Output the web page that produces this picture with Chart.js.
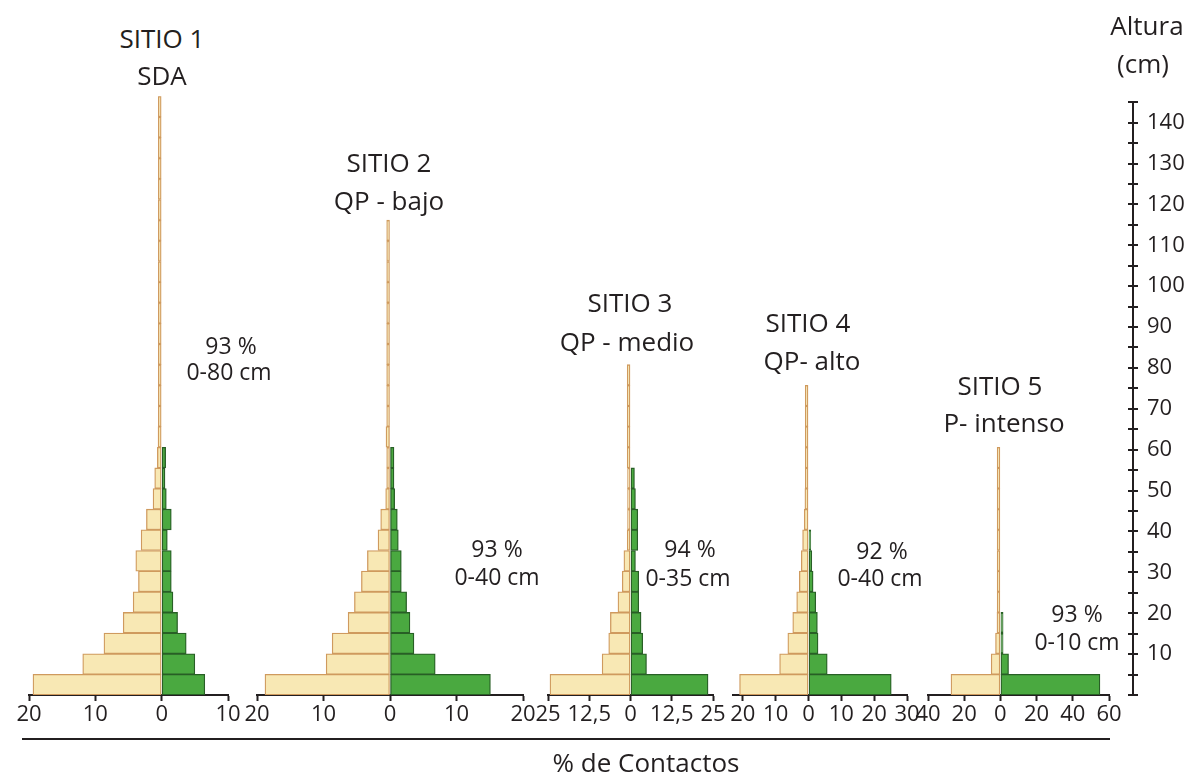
<!DOCTYPE html>
<html lang="es">
<head>
  <meta charset="UTF-8">
  <title>Perfiles de contactos por altura</title>
  <script src="https://cdn.jsdelivr.net/npm/chart.js"></script>
  <style>
    body { margin: 0; background: #fff; }
    #lienzo { position: relative; width: 1195px; height: 776px; overflow: hidden;
              font-family: 'Open Sans', sans-serif; color: #231f20; }
    #lienzo canvas { position: absolute; }
    .txt { position: absolute; transform: translate(-50%, -50%); line-height: 1; white-space: nowrap; }
    .titulo { font-size: 26px; }
    .nota { font-size: 23px; }
    #linea { position: absolute; left: 22px; width: 1088px; top: 738px; border-top: 2px solid #231f20; }
  </style>
</head>
<body>
<div id="lienzo">
  <div id="linea"></div>
</div>

<script>
  // Intervalos de altura (cm), de abajo hacia arriba
  const alturas = ['0-5', '5-10', '10-15', '15-20', '20-25', '25-30', '30-35', '35-40', '40-45', '45-50',
    '50-55', '55-60', '60-65', '65-70', '70-75', '75-80', '80-85', '85-90', '90-95', '95-100',
    '100-105', '105-110', '110-115', '115-120', '120-125', '125-130', '130-135', '135-140', '140-145'];

  // % de contactos por intervalo (crema = lado izquierdo, verde = lado derecho)
  const s1Crema = [19.4, 11.9, 8.7, 5.8, 4.3, 3.5, 3.9, 3.1, 2.3, 1.3, 1.05, 0.65, 0.55, 0.5, 0.5, 0.5, 0.5,
    0.5, 0.5, 0.5, 0.5, 0.5, 0.5, 0.5, 0.5, 0.5, 0.5, 0.5, 0.5];
  const s1Verde = [6.5, 5.0, 3.7, 2.4, 1.7, 1.45, 1.45, 0.85, 1.45, 0.7, 0.5, 0.6];

  const s2Crema = [18.8, 9.6, 8.7, 6.3, 5.35, 4.3, 3.4, 1.8, 1.4, 0.65, 0.5, 0.5, 0.6, 0.5, 0.5, 0.5,
    0.5, 0.5, 0.5, 0.5, 0.5, 0.5, 0.5];
  const s2Verde = [15.1, 6.8, 3.6, 3.0, 2.5, 1.7, 1.7, 1.25, 1.1, 0.7, 0.6, 0.6];

  const s3Crema = [24.4, 8.6, 6.6, 6.1, 3.8, 2.5, 2.0, 1.0, 0.9, 0.9, 0.9, 1.0, 1.0, 1.0, 1.0, 1.0];
  const s3Verde = [23.5, 4.85, 3.7, 3.2, 2.5, 2.5, 1.5, 2.2, 2.2, 1.5, 1.2];

  const s4Crema = [21, 8.8, 6.3, 4.8, 3.6, 2.8, 2.2, 1.8, 1.3, 1.1, 1.0, 1.0, 1.0, 1.0, 1.0];
  const s4Verde = [25.2, 5.7, 2.9, 2.7, 2.2, 1.4, 1.0, 0.7];

  const s5Crema = [27.3, 5.1, 2.7, 1.9, 1.8, 1.8, 1.8, 1.8, 1.8, 1.8, 1.8, 1.8];
  const s5Verde = [55, 4.5, 1.5, 1.5];

  // Marcas de los ejes
  const ticks1 = [-20, -10, 0, 10];
  const ticks2 = [-20, -10, 0, 10, 20];
  const ticks3 = [-25, -12.5, 0, 12.5, 25];
  const ticks4 = [-20, -10, 0, 10, 20, 30];
  const ticks5 = [-40, -20, 0, 20, 40, 60];
  const alturaMarcas = [0, 5, 10, 15, 20, 25, 30, 35, 40, 45, 50, 55, 60, 65, 70, 75, 80, 85, 90, 95,
    100, 105, 110, 115, 120, 125, 130, 135, 140, 145];
  const alturaEtiquetas = [10, 20, 30, 40, 50, 60, 70, 80, 90, 100, 110, 120, 130, 140];

  const TINTA = '#231f20';
  const FUENTE = "'Open Sans', sans-serif";
  const lienzo = document.getElementById('lienzo');

  // posición de cada panel: x0/x1 = pixel del mínimo/máximo del eje
  const paneles = [
    { crema: s1Crema, verde: s1Verde, min: -20, max: 10, ticks: ticks1, x0: 29, x1: 228 },
    { crema: s2Crema, verde: s2Verde, min: -20, max: 20, ticks: ticks2, x0: 257, x1: 523 },
    { crema: s3Crema, verde: s3Verde, min: -25, max: 25, ticks: ticks3, x0: 548, x1: 713 },
    { crema: s4Crema, verde: s4Verde, min: -23, max: 30, ticks: ticks4, x0: 733, x1: 907 },
    { crema: s5Crema, verde: s5Verde, min: -40, max: 60, ticks: ticks5, x0: 928, x1: 1109 }
  ];

  const TOP = 80, ALTO = 655, PAD_TOP = 16.3, EJE_X = 40;

  function nuevoCanvas(left, width) {
    const c = document.createElement('canvas');
    c.width = width; c.height = ALTO;
    c.style.left = left + 'px'; c.style.top = TOP + 'px';
    c.style.width = width + 'px'; c.style.height = ALTO + 'px';
    lienzo.appendChild(c);
    return c;
  }

  paneles.forEach(p => {
    const margen = 30;
    const ancho = p.x1 - p.x0 + 2 * margen;
    const c = nuevoCanvas(p.x0 - margen, ancho);
    new Chart(c.getContext('2d'), {
      type: 'bar',
      data: {
        labels: alturas,
        datasets: [
          {
            label: 'Crema',
            data: p.crema.map(v => -v),
            backgroundColor: '#f8e8b4',
            borderColor: '#cf9a5e',
            borderWidth: 1.3,
            borderSkipped: false,
            barPercentage: 1,
            categoryPercentage: 1
          },
          {
            label: 'Verde',
            data: p.verde,
            backgroundColor: '#4aa940',
            borderColor: '#285f26',
            borderWidth: 1.3,
            borderSkipped: false,
            barPercentage: 1,
            categoryPercentage: 1
          }
        ]
      },
      options: {
        indexAxis: 'y',
        responsive: false,
        animation: false,
        events: [],
        layout: { padding: { left: margen, right: margen, top: PAD_TOP, bottom: 0 } },
        plugins: { legend: { display: false }, tooltip: { enabled: false } },
        scales: {
          y: { display: false, stacked: true, reverse: true },
          x: {
            stacked: true,
            min: p.min,
            max: p.max,
            afterBuildTicks: s => { s.ticks = p.ticks.map(v => ({ value: v })); },
            afterFit: s => { s.height = EJE_X; },
            grid: { display: true, drawOnChartArea: false, drawTicks: true, tickLength: 6,
                    tickWidth: 2, tickColor: TINTA },
            border: { display: true, color: TINTA, width: 2 },
            ticks: {
              autoSkip: false, maxRotation: 0, padding: 1, color: TINTA,
              font: { family: FUENTE, size: 22 },
              callback: v => String(Math.abs(v)).replace('.', ',')
            }
          }
        }
      }
    });
  });

  // Eje de altura a la derecha
  const cAlt = nuevoCanvas(1100, 95);
  new Chart(cAlt.getContext('2d'), {
    type: 'bar',
    data: { labels: [], datasets: [] },
    options: {
      responsive: false,
      animation: false,
      events: [],
      layout: { padding: { left: 28, right: 0, top: PAD_TOP, bottom: EJE_X } },
      plugins: { legend: { display: false }, tooltip: { enabled: false } },
      scales: {
        x: { display: false },
        y: {
          type: 'linear',
          position: 'right',
          min: 0,
          max: 145,
          afterBuildTicks: s => { s.ticks = alturaMarcas.map(v => ({ value: v })); },
          afterFit: s => { s.width = 62; },
          grid: { display: true, drawOnChartArea: true, drawTicks: true, tickLength: 5,
                  color: TINTA, lineWidth: 2 },
          border: { display: true, color: TINTA, width: 2 },
          ticks: {
            autoSkip: false, padding: 9, color: TINTA,
            font: { family: FUENTE, size: 22 },
            callback: v => alturaEtiquetas.includes(v) ? String(v) : ''
          }
        }
      }
    }
  });

  // Textos
  const textos = [
    ['titulo', 'SITIO 1', 162, 38], ['titulo', 'SDA', 162, 75],
    ['titulo', 'SITIO 2', 389, 162], ['titulo', 'QP - bajo', 389, 200],
    ['titulo', 'SITIO 3', 630, 302], ['titulo', 'QP - medio', 627, 341],
    ['titulo', 'SITIO 4', 808, 322], ['titulo', 'QP- alto', 812, 360],
    ['titulo', 'SITIO 5', 1000, 385], ['titulo', 'P- intenso', 1004, 422],
    ['titulo', 'Altura', 1147, 25], ['titulo', '(cm)', 1143, 63],
    ['nota', '93 %', 231, 345], ['nota', '0-80 cm', 229, 371],
    ['nota', '93 %', 497, 548], ['nota', '0-40 cm', 497, 576],
    ['nota', '94 %', 690, 548], ['nota', '0-35 cm', 688, 577],
    ['nota', '92 %', 882, 550], ['nota', '0-40 cm', 880, 577],
    ['nota', '93 %', 1077, 613], ['nota', '0-10 cm', 1077, 641],
    ['titulo', '% de Contactos', 646, 762]
  ];
  textos.forEach(([cls, t, x, y]) => {
    const d = document.createElement('div');
    d.className = 'txt ' + cls;
    d.textContent = t;
    d.style.left = x + 'px';
    d.style.top = y + 'px';
    lienzo.appendChild(d);
  });
</script>
</body>
</html>
